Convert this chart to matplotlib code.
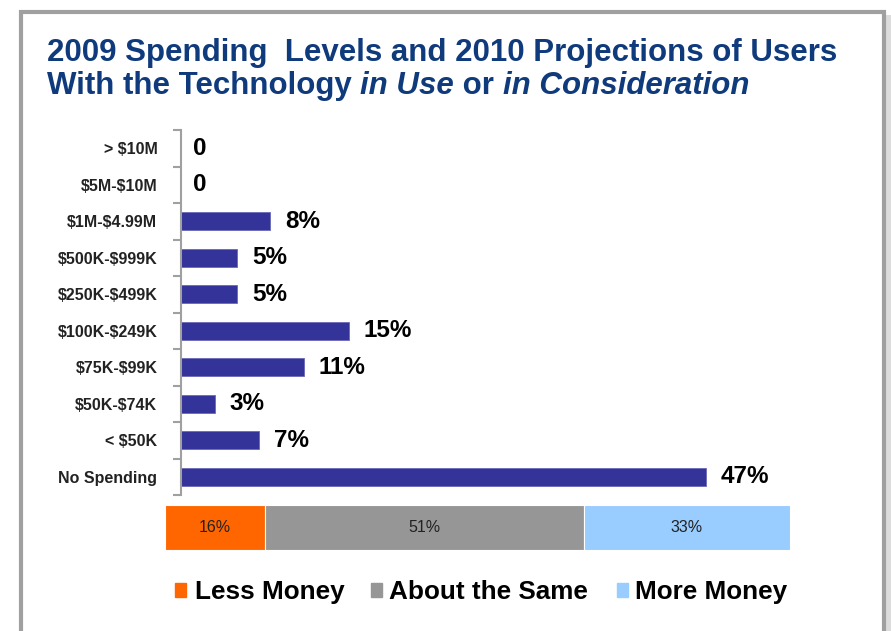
import matplotlib.pyplot as plt
from matplotlib.patches import Rectangle
import numpy as np

plt.rcParams['font.family'] = ['Liberation Sans', 'DejaVu Sans']
plt.rcParams['text.parse_math'] = False

# data
categories = ["> $10M", "$5M-$10M", "$1M-$4.99M", "$500K-$999K", "$250K-$499K",
              "$100K-$249K", "$75K-$99K", "$50K-$74K", "< $50K", "No Spending"]
spending = [0, 0, 8, 5, 5, 15, 11, 3, 7, 47]
labels = ["0", "0", "8%", "5%", "5%", "15%", "11%", "3%", "7%", "47%"]

outlook = ["Less Money", "About the Same", "More Money"]
outlook_pct = [16, 51, 33]
outlook_colors = ["#ff6600", "#969696", "#99ccff"]

W, H = 891, 631
fig = plt.figure(figsize=(W / 100, H / 100), dpi=100)

def fx(px):
    return px / W

def fy(py):
    return 1 - py / H

# frame with a little shadow on the right
fig.patches.append(Rectangle((fx(886), fy(700)), fx(5), fy(15) - fy(700),
                             transform=fig.transFigure, lw=0, color="#dcdcdc"))
fig.patches.append(Rectangle((fx(21), fy(700)), fx(884 - 21), fy(12) - fy(700),
                             transform=fig.transFigure, fill=False, lw=3, ec="#a0a0a0"))

# title
title_color = "#0f3a7c"
tsize = 22.5
fig.text(fx(47), fy(61), "2009 Spending  Levels and 2010 Projections of Users",
         fontsize=tsize, fontweight="bold", color=title_color, va="baseline")
pieces = [("With the Technology ", "normal"), ("in Use", "italic"),
          (" or ", "normal"), ("in Consideration", "italic")]
fig.canvas.draw()
r = fig.canvas.get_renderer()
x = fx(47)
for txt, style in pieces:
    t = fig.text(x, fy(94), txt, fontsize=tsize, fontweight="bold", style=style,
                 color=title_color, va="baseline")
    bb = t.get_window_extent(renderer=r)
    x = x + bb.width / W

# spending bars
ax = fig.add_axes([fx(181), fy(495), fx(650), fy(130) - fy(495)])
ypos = np.arange(len(categories))
ax.barh(ypos, spending, height=0.5, color="#333399", edgecolor="#6a6ab8", lw=0.6)
ax.set_xlim(0, 650 / 11.17)
ax.set_ylim(len(categories) - 0.5, -0.5)
for s in ["top", "right", "bottom"]:
    ax.spines[s].set_visible(False)
ax.spines["left"].set_color("#a0a0a0")
ax.spines["left"].set_linewidth(1.5)
ax.set_xticks([])
ax.set_yticks(ypos)
ax.set_yticklabels(categories, fontsize=11.5, fontweight="bold", color="#222222")
ax.tick_params(axis="y", which="major", length=0, pad=17)
ax.set_yticks(np.arange(-0.5, len(categories)), minor=True)
ax.tick_params(axis="y", which="minor", length=6, width=1.5, color="#a0a0a0", direction="out")
for yv, v, lab in zip(ypos, spending, labels):
    ax.annotate(lab, (v, yv), xytext=(15 if v > 0 else 12, 0), textcoords="offset pixels",
                fontsize=17.5, fontweight="bold", va="center", ha="left")

# outlook stacked bar
ax2 = fig.add_axes([fx(165), fy(550), fx(790 - 165), fy(505) - fy(550)])
left = 0
for name, p, c in zip(outlook, outlook_pct, outlook_colors):
    ax2.barh(0, p, left=left, height=1, color=c, edgecolor="white", lw=0.8)
    ax2.text(left + p / 2, 0, f"{p}%", ha="center", va="center", fontsize=11.5, color="#222222")
    left += p
ax2.set_xlim(0, 100)
ax2.set_ylim(-0.5, 0.5)
ax2.axis("off")

# legend
leg_sq = [175, 371, 617]
leg_tx = [195, 389, 635]
for name, c, sx, tx in zip(outlook, outlook_colors, leg_sq, leg_tx):
    fig.patches.append(Rectangle((fx(sx), fy(597)), fx(11), fy(583) - fy(597),
                                 transform=fig.transFigure, color=c))
    fig.text(fx(tx), fy(599), name, fontsize=18.8, fontweight="bold", va="baseline")

fig.savefig("out.png", dpi=100)
